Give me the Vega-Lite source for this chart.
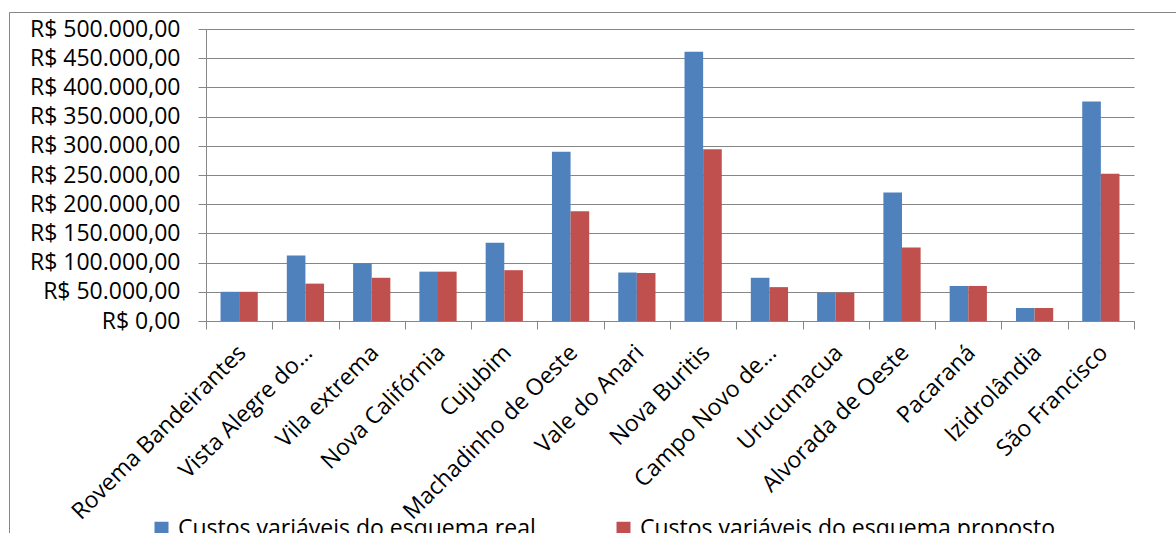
{
  "$schema": "https://vega.github.io/schema/vega-lite/v6.json",
  "width": 928,
  "height": 292,
  "autosize": {"type": "none"},
  "padding": {"left": 206, "top": 29, "right": 42, "bottom": 212},
  "background": "white",
  "config": {
    "locale": {
      "number": {"decimal": ",", "thousands": ".", "grouping": [3], "currency": ["R$ ", ""]}
    },
    "view": {"stroke": null},
    "font": "Open Sans"
  },
  "data": {
    "values": [
      {"municipio": "Rovema Bandeirantes", "serie": "Custos variáveis do esquema real", "valor": 50000},
      {"municipio": "Rovema Bandeirantes", "serie": "Custos variáveis do esquema proposto", "valor": 50000},
      {"municipio": "Vista Alegre do…", "serie": "Custos variáveis do esquema real", "valor": 112000},
      {"municipio": "Vista Alegre do…", "serie": "Custos variáveis do esquema proposto", "valor": 64000},
      {"municipio": "Vila extrema", "serie": "Custos variáveis do esquema real", "valor": 99000},
      {"municipio": "Vila extrema", "serie": "Custos variáveis do esquema proposto", "valor": 74000},
      {"municipio": "Nova Califórnia", "serie": "Custos variáveis do esquema real", "valor": 84500},
      {"municipio": "Nova Califórnia", "serie": "Custos variáveis do esquema proposto", "valor": 84500},
      {"municipio": "Cujubim", "serie": "Custos variáveis do esquema real", "valor": 134000},
      {"municipio": "Cujubim", "serie": "Custos variáveis do esquema proposto", "valor": 87000},
      {"municipio": "Machadinho de Oeste", "serie": "Custos variáveis do esquema real", "valor": 290000},
      {"municipio": "Machadinho de Oeste", "serie": "Custos variáveis do esquema proposto", "valor": 188000},
      {"municipio": "Vale do Anari", "serie": "Custos variáveis do esquema real", "valor": 83000},
      {"municipio": "Vale do Anari", "serie": "Custos variáveis do esquema proposto", "valor": 82000},
      {"municipio": "Nova Buritis", "serie": "Custos variáveis do esquema real", "valor": 461000},
      {"municipio": "Nova Buritis", "serie": "Custos variáveis do esquema proposto", "valor": 294000},
      {"municipio": "Campo Novo de…", "serie": "Custos variáveis do esquema real", "valor": 74000},
      {"municipio": "Campo Novo de…", "serie": "Custos variáveis do esquema proposto", "valor": 58000},
      {"municipio": "Urucumacua", "serie": "Custos variáveis do esquema real", "valor": 48500},
      {"municipio": "Urucumacua", "serie": "Custos variáveis do esquema proposto", "valor": 48500},
      {"municipio": "Alvorada de Oeste", "serie": "Custos variáveis do esquema real", "valor": 220000},
      {"municipio": "Alvorada de Oeste", "serie": "Custos variáveis do esquema proposto", "valor": 126000},
      {"municipio": "Pacaraná", "serie": "Custos variáveis do esquema real", "valor": 60000},
      {"municipio": "Pacaraná", "serie": "Custos variáveis do esquema proposto", "valor": 60000},
      {"municipio": "Izidrolândia", "serie": "Custos variáveis do esquema real", "valor": 22300},
      {"municipio": "Izidrolândia", "serie": "Custos variáveis do esquema proposto", "valor": 22300},
      {"municipio": "São Francisco", "serie": "Custos variáveis do esquema real", "valor": 376000},
      {"municipio": "São Francisco", "serie": "Custos variáveis do esquema proposto", "valor": 252000}
    ]
  },
  "mark": {"type": "bar"},
  "encoding": {
    "x": {
      "field": "municipio",
      "type": "nominal",
      "sort": null,
      "scale": {"paddingInner": 0, "paddingOuter": 0},
      "axis": {
        "title": null,
        "labelAngle": -45,
        "tickBand": "extent",
        "labelFont": "Open Sans",
        "labelFontSize": 23,
        "labelColor": "#000000",
        "labelLimit": 600,
        "labelOffset": -5,
        "domainColor": "#868686",
        "tickColor": "#868686",
        "tickSize": 8,
        "labelPadding": 12,
        "grid": false
      }
    },
    "xOffset": {
      "field": "serie",
      "type": "nominal",
      "sort": ["Custos variáveis do esquema real", "Custos variáveis do esquema proposto"],
      "scale": {"paddingInner": 0, "paddingOuter": 0.78}
    },
    "y": {
      "field": "valor",
      "type": "quantitative",
      "scale": {"domain": [0, 500000], "nice": false},
      "axis": {
        "title": null,
        "values": [0, 50000, 100000, 150000, 200000, 250000, 300000, 350000, 400000, 450000, 500000],
        "format": "$,.2f",
        "labelFont": "Open Sans",
        "labelFontSize": 23,
        "labelColor": "#000000",
        "labelPadding": 18,
        "tickSize": 8,
        "tickColor": "#868686",
        "domainColor": "#868686",
        "grid": true,
        "gridColor": "#868686",
        "gridOpacity": 1
      }
    },
    "color": {
      "field": "serie",
      "type": "nominal",
      "scale": {
        "domain": ["Custos variáveis do esquema real", "Custos variáveis do esquema proposto"],
        "range": ["#4F81BD", "#C0504D"]
      },
      "legend": {
        "orient": "none",
        "legendX": -197,
        "legendY": -17,
        "direction": "horizontal",
        "columns": 2,
        "columnPadding": 76,
        "symbolType": "square",
        "symbolSize": 196,
        "symbolStrokeWidth": 0,
        "labelFont": "Open Sans",
        "labelFontSize": 23,
        "labelColor": "#000000",
        "labelLimit": 600,
        "labelOffset": 5,
        "padding": 141,
        "strokeColor": "#868686",
        "title": "                                          ",
        "titleFontSize": 100,
        "titleLimit": 5000,
        "titlePadding": 264
      }
    }
  }
}
